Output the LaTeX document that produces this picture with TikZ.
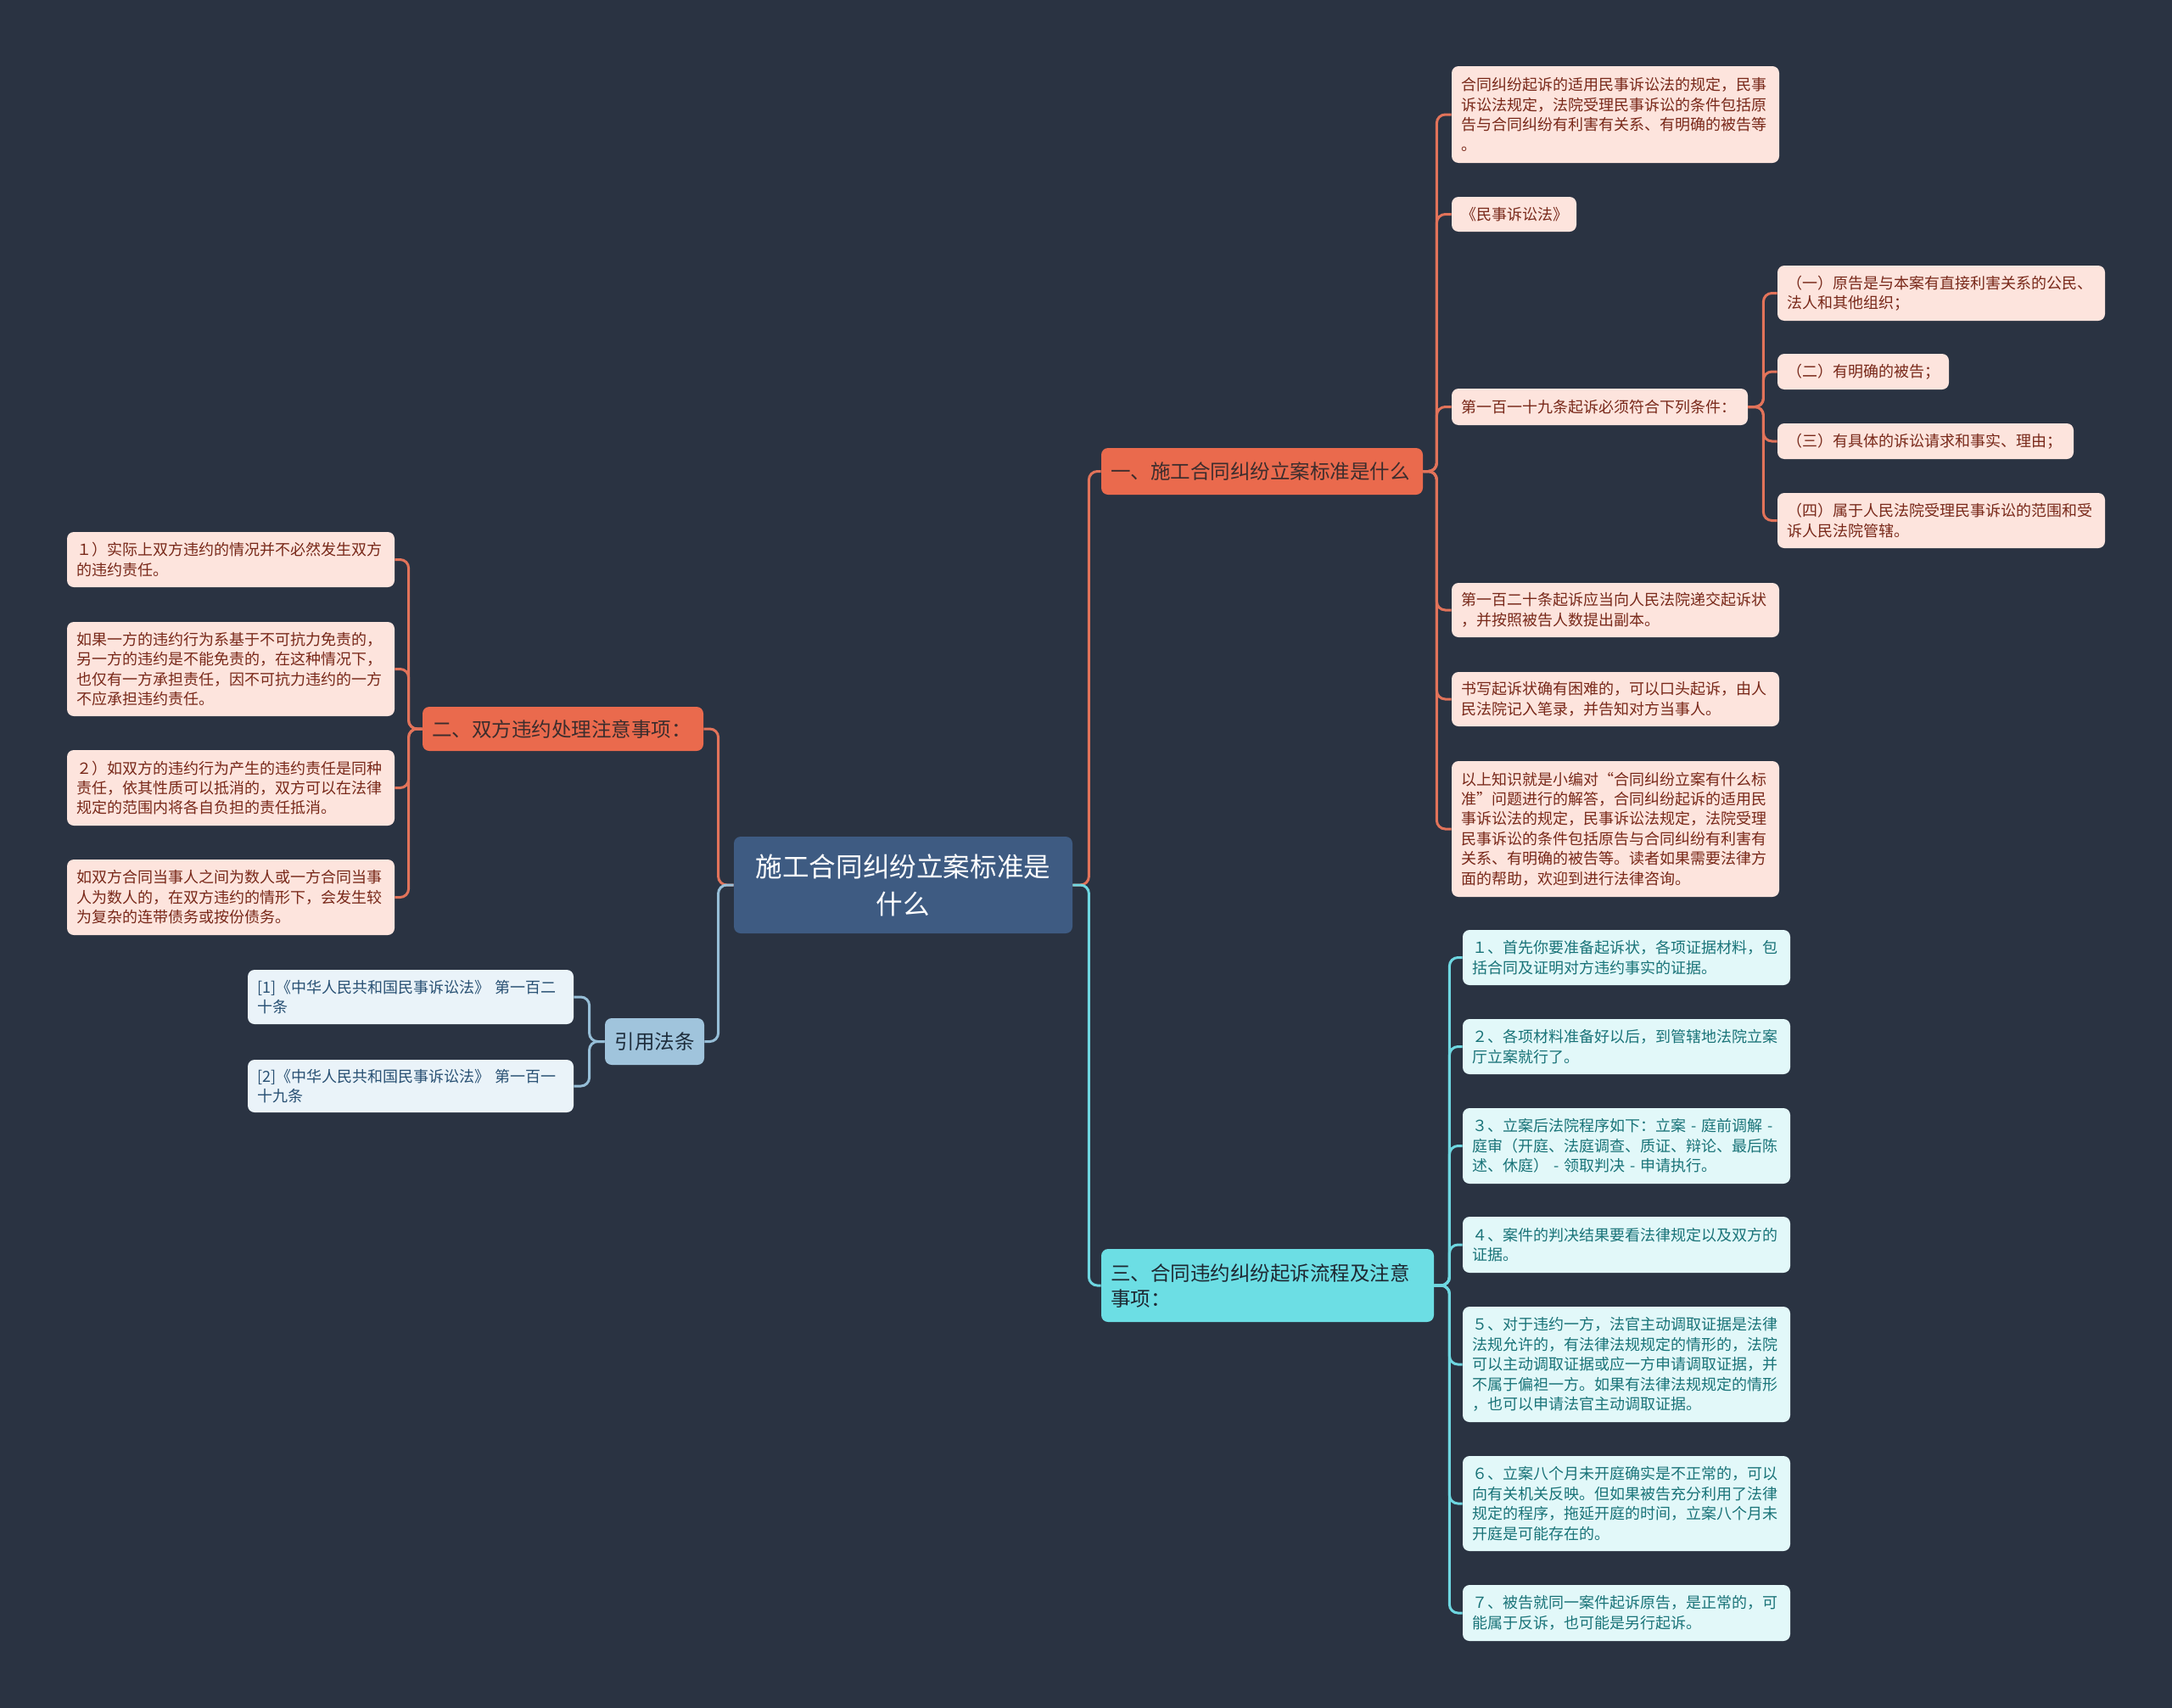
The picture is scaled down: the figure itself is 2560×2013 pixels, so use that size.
\documentclass[tikz,border=0pt]{standalone}
\usepackage{fontspec}
\setmainfont{Noto Sans CJK SC}
\definecolor{bg}{RGB}{42,51,66}
\definecolor{cC}{RGB}{62,91,130}
\definecolor{cO}{RGB}{234,106,77}
\definecolor{cOT}{RGB}{60,45,45}
\definecolor{cOL}{RGB}{253,228,221}
\definecolor{cOLT}{RGB}{120,40,25}
\definecolor{cOLine}{RGB}{226,115,90}
\definecolor{cT}{RGB}{108,222,228}
\definecolor{cTT}{RGB}{30,40,50}
\definecolor{cTL}{RGB}{226,248,249}
\definecolor{cTLT}{RGB}{25,115,120}
\definecolor{cTLine}{RGB}{110,215,225}
\definecolor{cR}{RGB}{160,196,220}
\definecolor{cRT}{RGB}{30,45,60}
\definecolor{cRL}{RGB}{234,243,249}
\definecolor{cRLT}{RGB}{40,80,115}
\definecolor{cRLine}{RGB}{150,190,215}
\newcommand\putbox[7]{%
  \pgfmathsetmacro\bxw{(#5-#3)*0.5}%
  \pgfmathsetmacro\bxh{(#6-#4)*0.5}%
  \pgfmathsetmacro\bxtw{(#5-#3)*0.5-11}%
  \node[#2, minimum width=\bxw pt, minimum height=\bxh pt, text width=\bxtw pt, inner xsep=5.5pt, inner ysep=0pt] (#1) at ({(#3+#5)/2},{(#4+#6)/2}) {#7};%
}
\begin{document}
\begin{tikzpicture}[x=0.5pt,y=-0.5pt,
  boxbase/.style={rounded corners=4pt, draw=none, anchor=center},
  central/.style={boxbase, fill=cC, text=white, font=\fontsize{15.8}{22}\selectfont, align=center},
  brO/.style={boxbase, fill=cO, text=cOT, font=\fontsize{11.75}{15}\selectfont, align=left},
  leafO/.style={boxbase, fill=cOL, text=cOLT, font=\fontsize{9}{11.7}\selectfont, align=left},
  brT/.style={boxbase, fill=cT, text=cTT, font=\fontsize{11.75}{15}\selectfont, align=left},
  leafT/.style={boxbase, fill=cTL, text=cTLT, font=\fontsize{9}{11.7}\selectfont, align=left},
  brR/.style={boxbase, fill=cR, text=cRT, font=\fontsize{11.75}{15}\selectfont, align=center},
  leafR/.style={boxbase, fill=cRL, text=cRLT, font=\fontsize{9}{11.7}\selectfont, align=left},
  lineO/.style={draw=cOLine, line width=1.5pt, rounded corners=5pt},
  lineT/.style={draw=cTLine, line width=1.5pt, rounded corners=5pt},
  lineR/.style={draw=cRLine, line width=1.5pt, rounded corners=5pt}]
\fill[bg] (0,0) rectangle (2560,2013);
\useasboundingbox (0,0) rectangle (2560,2013);

% central
\putbox{c}{central}{865}{986}{1264}{1100}{施工合同纠纷立案标准是\\什么}
% branches
\putbox{b1}{brO}{1298}{528}{1677}{583}{一、施工合同纠纷立案标准是什么}
\putbox{b2}{brO}{498}{833}{829}{885}{二、双方违约处理注意事项：}
\putbox{b3}{brT}{1298}{1472}{1690}{1558}{三、合同违约纠纷起诉流程及注意\\事项：}
\putbox{bR}{brR}{713}{1200}{830}{1255}{引用法条}

% branch 1 leaves
\putbox{lA}{leafO}{1711}{78}{2097}{192}{合同纠纷起诉的适用民事诉讼法的规定，民事\\诉讼法规定，法院受理民事诉讼的条件包括原\\告与合同纠纷有利害有关系、有明确的被告等\\。}
\putbox{lB}{leafO}{1711}{232}{1858}{273}{《民事诉讼法》}
\putbox{lC}{leafO}{1711}{458}{2060}{501}{第一百一十九条起诉必须符合下列条件：}
\putbox{lD}{leafO}{1711}{687}{2097}{751}{第一百二十条起诉应当向人民法院递交起诉状\\，并按照被告人数提出副本。}
\putbox{lE}{leafO}{1711}{792}{2097}{856}{书写起诉状确有困难的，可以口头起诉，由人\\民法院记入笔录，并告知对方当事人。}
\putbox{lF}{leafO}{1711}{897}{2097}{1057}{以上知识就是小编对“合同纠纷立案有什么标\\准”问题进行的解答，合同纠纷起诉的适用民\\事诉讼法的规定，民事诉讼法规定，法院受理\\民事诉讼的条件包括原告与合同纠纷有利害有\\关系、有明确的被告等。读者如果需要法律方\\面的帮助，欢迎到进行法律咨询。}
% sub leaves
\putbox{s1}{leafO}{2095}{313}{2481}{378}{（一）原告是与本案有直接利害关系的公民、\\法人和其他组织；}
\putbox{s2}{leafO}{2095}{417}{2297}{459}{（二）有明确的被告；}
\putbox{s3}{leafO}{2095}{499}{2444}{541}{（三）有具体的诉讼请求和事实、理由；}
\putbox{s4}{leafO}{2095}{581}{2481}{646}{（四）属于人民法院受理民事诉讼的范围和受\\诉人民法院管辖。}

% branch 2 leaves
\putbox{la}{leafO}{79}{627}{465}{692}{１）实际上双方违约的情况并不必然发生双方\\的违约责任。}
\putbox{lb}{leafO}{79}{733}{465}{844}{如果一方的违约行为系基于不可抗力免责的，\\另一方的违约是不能免责的，在这种情况下，\\也仅有一方承担责任，因不可抗力违约的一方\\不应承担违约责任。}
\putbox{lc}{leafO}{79}{884}{465}{973}{２）如双方的违约行为产生的违约责任是同种\\责任，依其性质可以抵消的，双方可以在法律\\规定的范围内将各自负担的责任抵消。}
\putbox{ld}{leafO}{79}{1013}{465}{1102}{如双方合同当事人之间为数人或一方合同当事\\人为数人的，在双方违约的情形下，会发生较\\为复杂的连带债务或按份债务。}

% ref leaves
\putbox{r1}{leafR}{292}{1143}{676}{1207}{[1]《中华人民共和国民事诉讼法》 第一百二\\十条}
\putbox{r2}{leafR}{292}{1249}{676}{1311}{[2]《中华人民共和国民事诉讼法》 第一百一\\十九条}

% branch 3 leaves
\putbox{t1}{leafT}{1724}{1096}{2110}{1161}{１、首先你要准备起诉状，各项证据材料，包\\括合同及证明对方违约事实的证据。}
\putbox{t2}{leafT}{1724}{1201}{2110}{1266}{２、各项材料准备好以后，到管辖地法院立案\\厅立案就行了。}
\putbox{t3}{leafT}{1724}{1306}{2110}{1395}{３、立案后法院程序如下：立案 - 庭前调解 -\\庭审（开庭、法庭调查、质证、辩论、最后陈\\述、休庭） - 领取判决 - 申请执行。}
\putbox{t4}{leafT}{1724}{1434}{2110}{1500}{４、案件的判决结果要看法律规定以及双方的\\证据。}
\putbox{t5}{leafT}{1724}{1540}{2110}{1676}{５、对于违约一方，法官主动调取证据是法律\\法规允许的，有法律法规规定的情形的，法院\\可以主动调取证据或应一方申请调取证据，并\\不属于偏袒一方。如果有法律法规规定的情形\\，也可以申请法官主动调取证据。}
\putbox{t6}{leafT}{1724}{1716}{2110}{1828}{６、立案八个月未开庭确实是不正常的，可以\\向有关机关反映。但如果被告充分利用了法律\\规定的程序，拖延开庭的时间，立案八个月未\\开庭是可能存在的。}
\putbox{t7}{leafT}{1724}{1868}{2110}{1934}{７、被告就同一案件起诉原告，是正常的，可\\能属于反诉，也可能是另行起诉。}

% connectors
\draw[lineO] (c.west) -- ++(-18,0) |- (b2.east);
\draw[lineR] (c.west) -- ++(-18,0) |- (bR.east);
\draw[lineO] (c.east) -- ++(19,0) |- (b1.west);
\draw[lineT] (c.east) -- ++(19,0) |- (b3.west);
\foreach \n in {lA,lB,lC,lD,lE,lF}{\draw[lineO] (b1.east) -- ++(16,0) |- (\n.west);}
\foreach \n in {s1,s2,s3,s4}{\draw[lineO] (lC.east) -- ++(18,0) |- (\n.west);}
\foreach \n in {la,lb,lc,ld}{\draw[lineO] (b2.west) -- ++(-16,0) |- (\n.east);}
\foreach \n in {r1,r2}{\draw[lineR] (bR.west) -- ++(-18,0) |- (\n.east);}
\foreach \n in {t1,t2,t3,t4,t5,t6,t7}{\draw[lineT] (b3.east) -- ++(18,0) |- (\n.west);}
\end{tikzpicture}
\end{document}
